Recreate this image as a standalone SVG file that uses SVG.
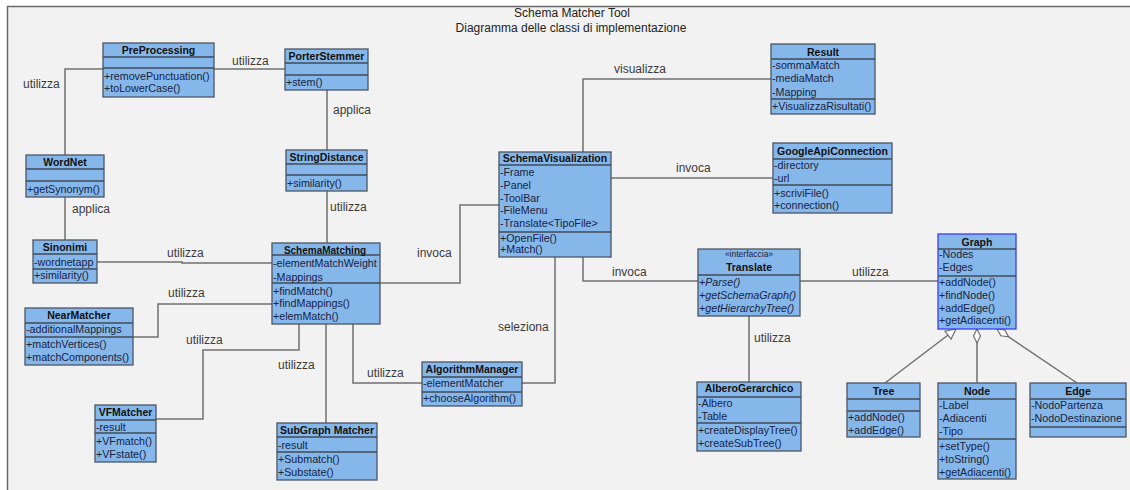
<svg xmlns="http://www.w3.org/2000/svg" width="1130" height="490" viewBox="0 0 1130 490">
  <style>
    .cls rect { fill: #86b7ea; stroke: #4a5563; stroke-width: 1.3; }
    .cls line { stroke: #3f4a57; stroke-width: 1.3; }
    .graph rect { stroke: #3a3cf0; }
    .hd { font-family: "Liberation Sans", Arial, sans-serif; font-size: 10.5px; font-weight: bold; fill: #111; text-anchor: middle; }
    .st { font-family: "Liberation Sans", Arial, sans-serif; font-size: 8.5px; fill: #1a2540; text-anchor: middle; }
    .m { font-family: "Liberation Sans", Arial, sans-serif; font-size: 10.7px; fill: #17233f; }
    .it { font-style: italic; }
    .conn path { fill: none; stroke: #707070; stroke-width: 1.5; }
    .lbl { font-family: "Liberation Sans", Arial, sans-serif; font-size: 12px; fill: #3a3a3a; }
    .title { font-family: "Liberation Sans", Arial, sans-serif; font-size: 12px; fill: #222; text-anchor: middle; }
  </style>
  <defs>
    <marker id="gen" markerUnits="userSpaceOnUse" markerWidth="14" markerHeight="14" refX="0" refY="0" viewBox="-1 -7 14 14" orient="auto">
      <polygon points="0,0 10,-5 10,5" fill="#ffffff" stroke="#707070" stroke-width="1.2"/>
    </marker>
    <marker id="agg" markerUnits="userSpaceOnUse" markerWidth="18" markerHeight="10" refX="0" refY="0" viewBox="-1 -5 18 10" orient="auto">
      <polygon points="0,0 7,-3.5 14,0 7,3.5" fill="#ffffff" stroke="#707070" stroke-width="1.2"/>
    </marker>
  </defs>

  <!-- page and frame -->
  <rect x="0" y="0" width="1130" height="490" fill="#ffffff"/>
  <rect x="7.5" y="6.5" width="1130" height="490" fill="#f2f2f2" stroke="#6a6a6a" stroke-width="1.5"/>

  <text class="title" x="572" y="17">Schema Matcher Tool</text>
  <text class="title" x="571" y="32">Diagramma delle classi di implementazione</text>

  <!-- associations -->
  <g id="connectors" class="conn">
    <path d="M65,155 V69 H103"/>
    <path d="M214,69 H285"/>
    <path d="M327,90 V150"/>
    <path d="M65,197 V240"/>
    <path d="M327,191 V243"/>
    <path d="M97,262 H182 V263 H272"/>
    <path d="M133,337 H158 V304 H272"/>
    <path d="M156,419 H203 V350 H299 V324"/>
    <path d="M326,324 V423"/>
    <path d="M353,324 V383 H422"/>
    <path d="M522,383 H555 V257"/>
    <path d="M380,283 H460 V205 H499"/>
    <path d="M583,152 V79 H771"/>
    <path d="M611,178 H773"/>
    <path d="M583,257 V281 H698"/>
    <path d="M749,316 V382"/>
    <path d="M800,281 H938"/>
    <path d="M956,329 L885,383" marker-start="url(#gen)"/>
    <path d="M977,329 V383" marker-start="url(#agg)"/>
    <path d="M997,329 L1077,383" marker-start="url(#agg)"/>
  </g>

  <g id="connector-labels">
    <text class="lbl" x="23" y="88">utilizza</text>
    <text class="lbl" x="232" y="65">utilizza</text>
    <text class="lbl" x="333" y="114">applica</text>
    <text class="lbl" x="72" y="213">applica</text>
    <text class="lbl" x="330" y="211">utilizza</text>
    <text class="lbl" x="167" y="257">utilizza</text>
    <text class="lbl" x="168" y="297">utilizza</text>
    <text class="lbl" x="186" y="344">utilizza</text>
    <text class="lbl" x="278" y="369">utilizza</text>
    <text class="lbl" x="367" y="377">utilizza</text>
    <text class="lbl" x="498" y="331">seleziona</text>
    <text class="lbl" x="417" y="257">invoca</text>
    <text class="lbl" x="614" y="73">visualizza</text>
    <text class="lbl" x="676" y="172">invoca</text>
    <text class="lbl" x="612" y="276">invoca</text>
    <text class="lbl" x="754" y="342">utilizza</text>
    <text class="lbl" x="852" y="276">utilizza</text>
  </g>

  <!-- classes -->
  <g id="preprocessing" class="cls">
    <rect x="103" y="43" width="111" height="54"/>
    <line x1="103" y1="57" x2="214" y2="57"/><line x1="103" y1="68" x2="214" y2="68"/>
    <text class="hd" x="158.5" y="54">PreProcessing</text>
    <text class="m" x="104" y="80">+removePunctuation()</text>
    <text class="m" x="104" y="92">+toLowerCase()</text>
  </g>

  <g id="porterstemmer" class="cls">
    <rect x="285" y="49" width="83" height="41"/>
    <line x1="285" y1="63" x2="368" y2="63"/><line x1="285" y1="75" x2="368" y2="75"/>
    <text class="hd" x="326.5" y="60">PorterStemmer</text>
    <text class="m" x="286" y="86">+stem()</text>
  </g>

  <g id="wordnet" class="cls">
    <rect x="26" y="155" width="78" height="42"/>
    <line x1="26" y1="169" x2="104" y2="169"/><line x1="26" y1="181" x2="104" y2="181"/>
    <text class="hd" x="65" y="166">WordNet</text>
    <text class="m" x="27" y="193">+getSynonym()</text>
  </g>

  <g id="stringdistance" class="cls">
    <rect x="286" y="150" width="81" height="41"/>
    <line x1="286" y1="164" x2="367" y2="164"/><line x1="286" y1="175" x2="367" y2="175"/>
    <text class="hd" x="326.5" y="161">StringDistance</text>
    <text class="m" x="287" y="187">+similarity()</text>
  </g>

  <g id="sinonimi" class="cls">
    <rect x="33" y="240" width="64" height="43"/>
    <line x1="33" y1="254" x2="97" y2="254"/><line x1="33" y1="269" x2="97" y2="269"/>
    <text class="hd" x="65" y="251">Sinonimi</text>
    <text class="m" x="34" y="266">-wordnetapp</text>
    <text class="m" x="34" y="279">+similarity()</text>
  </g>

  <g id="schemamatching" class="cls">
    <rect x="272" y="243" width="108" height="81"/>
    <line x1="272" y1="255" x2="380" y2="255"/><line x1="272" y1="283" x2="380" y2="283"/>
    <text class="hd" x="325" y="253.5" style="font-size:10px">SchemaMatching</text>
    <text class="m" x="273" y="267">-elementMatchWeight</text>
    <text class="m" x="273" y="281">-Mappings</text>
    <text class="m" x="273" y="295">+findMatch()</text>
    <text class="m" x="273" y="307">+findMappings()</text>
    <text class="m" x="273" y="320">+elemMatch()</text>
  </g>

  <g id="nearmatcher" class="cls">
    <rect x="25" y="308" width="108" height="57"/>
    <line x1="25" y1="323" x2="133" y2="323"/><line x1="25" y1="337" x2="133" y2="337"/>
    <text class="hd" x="79" y="319">NearMatcher</text>
    <text class="m" x="26" y="333">-additionalMappings</text>
    <text class="m" x="26" y="348">+matchVertices()</text>
    <text class="m" x="26" y="361">+matchComponents()</text>
  </g>

  <g id="vfmatcher" class="cls">
    <rect x="95" y="405" width="61" height="57"/>
    <line x1="95" y1="420" x2="156" y2="420"/><line x1="95" y1="433" x2="156" y2="433"/>
    <text class="hd" x="125.5" y="416">VFMatcher</text>
    <text class="m" x="96" y="431">-result</text>
    <text class="m" x="96" y="445">+VFmatch()</text>
    <text class="m" x="96" y="458">+VFstate()</text>
  </g>

  <g id="subgraphmatcher" class="cls">
    <rect x="277" y="423" width="100" height="57"/>
    <line x1="277" y1="437" x2="377" y2="437"/><line x1="277" y1="452" x2="377" y2="452"/>
    <text class="hd" x="327" y="434">SubGraph Matcher</text>
    <text class="m" x="278" y="449">-result</text>
    <text class="m" x="278" y="463">+Submatch()</text>
    <text class="m" x="278" y="476">+Substate()</text>
  </g>

  <g id="algorithmmanager" class="cls">
    <rect x="422" y="362" width="100" height="44"/>
    <line x1="422" y1="377" x2="522" y2="377"/><line x1="422" y1="392" x2="522" y2="392"/>
    <text class="hd" x="472" y="373">AlgorithmManager</text>
    <text class="m" x="423" y="387">-elementMatcher</text>
    <text class="m" x="423" y="402">+chooseAlgorithm()</text>
  </g>

  <g id="schemavisualization" class="cls">
    <rect x="499" y="152" width="112" height="105"/>
    <line x1="499" y1="165" x2="611" y2="165"/><line x1="499" y1="232" x2="611" y2="232"/>
    <text class="hd" x="555" y="162">SchemaVisualization</text>
    <text class="m" x="500" y="176">-Frame</text>
    <text class="m" x="500" y="189">-Panel</text>
    <text class="m" x="500" y="202">-ToolBar</text>
    <text class="m" x="500" y="214">-FileMenu</text>
    <text class="m" x="500" y="227">-Translate&lt;TipoFile&gt;</text>
    <text class="m" x="500" y="242">+OpenFile()</text>
    <text class="m" x="500" y="253">+Match()</text>
  </g>

  <g id="result" class="cls">
    <rect x="771" y="44" width="104" height="70"/>
    <line x1="771" y1="59" x2="875" y2="59"/><line x1="771" y1="99" x2="875" y2="99"/>
    <text class="hd" x="823" y="56">Result</text>
    <text class="m" x="772" y="69">-sommaMatch</text>
    <text class="m" x="772" y="82">-mediaMatch</text>
    <text class="m" x="772" y="96">-Mapping</text>
    <text class="m" x="772" y="110">+VisualizzaRisultati()</text>
  </g>

  <g id="googleapiconnection" class="cls">
    <rect x="773" y="143" width="119" height="70"/>
    <line x1="773" y1="159" x2="892" y2="159"/><line x1="773" y1="185" x2="892" y2="185"/>
    <text class="hd" x="832.5" y="155">GoogleApiConnection</text>
    <text class="m" x="774" y="169">-directory</text>
    <text class="m" x="774" y="182">-url</text>
    <text class="m" x="774" y="197">+scriviFile()</text>
    <text class="m" x="774" y="209">+connection()</text>
  </g>

  <g id="translate" class="cls">
    <rect x="698" y="249" width="102" height="67"/>
    <line x1="698" y1="275" x2="800" y2="275"/>
    <text class="st" x="749" y="257">«interfaccia»</text>
    <text class="hd" x="749" y="271">Translate</text>
    <text class="m it" x="699" y="286">+Parse()</text>
    <text class="m it" x="699" y="299">+getSchemaGraph()</text>
    <text class="m it" x="699" y="312">+getHierarchyTree()</text>
  </g>

  <g id="alberogerarchico" class="cls">
    <rect x="697" y="382" width="104" height="69"/>
    <line x1="697" y1="397" x2="801" y2="397"/><line x1="697" y1="423" x2="801" y2="423"/>
    <text class="hd" x="749" y="392">AlberoGerarchico</text>
    <text class="m" x="698" y="407">-Albero</text>
    <text class="m" x="698" y="420">-Table</text>
    <text class="m" x="698" y="434">+createDisplayTree()</text>
    <text class="m" x="698" y="447">+createSubTree()</text>
  </g>

  <g id="graph" class="cls graph">
    <rect x="938" y="234" width="78" height="95"/>
    <line x1="938" y1="249" x2="1016" y2="249"/><line x1="938" y1="276" x2="1016" y2="276"/>
    <text class="hd" x="977" y="246">Graph</text>
    <text class="m" x="939" y="258">-Nodes</text>
    <text class="m" x="939" y="271">-Edges</text>
    <text class="m" x="939" y="286">+addNode()</text>
    <text class="m" x="939" y="299">+findNode()</text>
    <text class="m" x="939" y="312">+addEdge()</text>
    <text class="m" x="939" y="324">+getAdiacenti()</text>
  </g>

  <g id="tree" class="cls">
    <rect x="847" y="383" width="73" height="54"/>
    <line x1="847" y1="399" x2="920" y2="399"/><line x1="847" y1="411" x2="920" y2="411"/>
    <text class="hd" x="883.5" y="395">Tree</text>
    <text class="m" x="848" y="421">+addNode()</text>
    <text class="m" x="848" y="434">+addEdge()</text>
  </g>

  <g id="node" class="cls">
    <rect x="938" y="383" width="78" height="96"/>
    <line x1="938" y1="399" x2="1016" y2="399"/><line x1="938" y1="439" x2="1016" y2="439"/>
    <text class="hd" x="977" y="395">Node</text>
    <text class="m" x="939" y="409">-Label</text>
    <text class="m" x="939" y="422">-Adiacenti</text>
    <text class="m" x="939" y="435">-Tipo</text>
    <text class="m" x="939" y="450">+setType()</text>
    <text class="m" x="939" y="463">+toString()</text>
    <text class="m" x="939" y="476">+getAdiacenti()</text>
  </g>

  <g id="edge" class="cls">
    <rect x="1030" y="383" width="96" height="54"/>
    <line x1="1030" y1="399" x2="1126" y2="399"/><line x1="1030" y1="427" x2="1126" y2="427"/>
    <text class="hd" x="1078" y="395">Edge</text>
    <text class="m" x="1031" y="409">-NodoPartenza</text>
    <text class="m" x="1031" y="422">-NodoDestinazione</text>
  </g>
</svg>
